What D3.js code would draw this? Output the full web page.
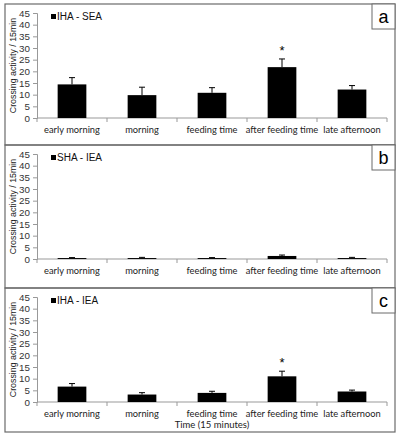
<!DOCTYPE html>
<html>
<head>
<meta charset="utf-8">
<script src="https://cdn.jsdelivr.net/npm/d3@7.9.0/dist/d3.min.js"></script>
<style>
  body { margin: 0; background: #fff; }
  svg { display: block; }
  .tick text { font-family: Arial, "Liberation Sans", sans-serif; }
</style>
</head>
<body>
<svg id="chart" width="399" height="436"></svg>
<script>
// categories on the x axis
const periods = ['early morning', 'morning', 'feeding time', 'after feeding time', 'late afternoon'];
const yTicks = [0, 5, 10, 15, 20, 25, 30, 35, 40, 45];

// panel a: IHA - SEA
const ihaSeaMean = [14.4, 9.8, 10.8, 21.8, 12.2];
const ihaSeaErr = [2.9, 3.4, 2.2, 3.5, 1.7];
// panel b: SHA - IEA
const shaIeaMean = [0.4, 0.4, 0.4, 1.3, 0.4];
const shaIeaErr = [0.2, 0.3, 0.2, 0.4, 0.3];
// panel c: IHA - IEA
const ihaIeaMean = [6.6, 3.2, 3.9, 11.0, 4.5];
const ihaIeaErr = [1.3, 0.8, 0.7, 2.2, 0.6];

const panels = [
  { letter: 'a', legend: 'IHA - SEA', mean: ihaSeaMean, err: ihaSeaErr, star: [3], top: 4, bottom: 145 },
  { letter: 'b', legend: 'SHA - IEA', mean: shaIeaMean, err: shaIeaErr, star: [], top: 145, bottom: 288 },
  { letter: 'c', legend: 'IHA - IEA', mean: ihaIeaMean, err: ihaIeaErr, star: [3], top: 288, bottom: 432, xTitle: 'Time (15 minutes)' }
];

const svg = d3.select('#chart');
const left = 5, right = 395;
const plotL = 37, plotR = 387;

const x = d3.scaleBand().domain(periods).range([plotL, plotR]).paddingInner(0.59).paddingOuter(0.295);

panels.forEach(p => {
  const g = svg.append('g');
  const y = d3.scaleLinear().domain([0, 45]).range([p.top + 114, p.top + 9]);

  // panel frame
  g.append('rect')
    .attr('x', left).attr('y', p.top)
    .attr('width', right - left).attr('height', p.bottom - p.top)
    .attr('fill', 'none').attr('stroke', '#6b6b6b').attr('stroke-width', 1.2);

  // y axis
  const yAxis = g.append('g')
    .attr('transform', `translate(${plotL},0)`)
    .call(d3.axisLeft(y).tickValues(yTicks).tickSize(4).tickPadding(3));
  yAxis.select('.domain').attr('stroke', '#999');
  yAxis.selectAll('.tick line').attr('stroke', '#999');
  yAxis.selectAll('.tick text').attr('font-size', 9.8).attr('fill', '#333');

  // x axis with ticks between categories
  const xAxisG = g.append('g').attr('transform', `translate(0,${y(0)})`);
  xAxisG.append('line').attr('x1', plotL).attr('x2', plotR).attr('stroke', '#999');
  const step = x.step();
  xAxisG.selectAll('line.sep')
    .data(d3.range(periods.length + 1))
    .join('line')
    .attr('class', 'sep')
    .attr('x1', i => plotL + i * step).attr('x2', i => plotL + i * step)
    .attr('y1', 0).attr('y2', 4)
    .attr('stroke', '#999');
  xAxisG.selectAll('text')
    .data(periods)
    .join('text')
    .attr('x', d => x(d) + x.bandwidth() / 2)
    .attr('y', 15)
    .attr('text-anchor', 'middle')
    .attr('font-family', 'Lato, "Open Sans", sans-serif')
    .attr('font-size', 9.3)
    .attr('fill', '#222')
    .text(d => d);

  // bars
  g.selectAll('rect.bar')
    .data(p.mean)
    .join('rect')
    .attr('class', 'bar')
    .attr('x', (d, i) => x(periods[i]))
    .attr('y', d => y(d))
    .attr('width', x.bandwidth())
    .attr('height', d => y(0) - y(d))
    .attr('fill', '#000');

  // upper error bars
  const eb = g.selectAll('g.err')
    .data(p.mean.map((m, i) => ({ m, e: p.err[i], cx: x(periods[i]) + x.bandwidth() / 2 })))
    .join('g').attr('class', 'err');
  eb.append('line')
    .attr('x1', d => d.cx).attr('x2', d => d.cx)
    .attr('y1', d => y(d.m)).attr('y2', d => y(d.m + d.e))
    .attr('stroke', '#000').attr('stroke-width', 1);
  eb.append('line')
    .attr('x1', d => d.cx - 3).attr('x2', d => d.cx + 3)
    .attr('y1', d => y(d.m + d.e)).attr('y2', d => y(d.m + d.e))
    .attr('stroke', '#000').attr('stroke-width', 1);

  // significance stars
  g.selectAll('text.star')
    .data(p.star)
    .join('text')
    .attr('class', 'star')
    .attr('x', i => x(periods[i]) + x.bandwidth() / 2)
    .attr('y', i => y(p.mean[i] + p.err[i]) - 4)
    .attr('text-anchor', 'middle')
    .attr('font-family', 'Arial, sans-serif')
    .attr('font-size', 13)
    .text('*');

  // legend
  g.append('rect')
    .attr('x', 51).attr('y', p.top + 10)
    .attr('width', 5).attr('height', 5)
    .attr('fill', '#000');
  g.append('text')
    .attr('x', 57).attr('y', p.top + 15.5)
    .attr('font-family', 'Arial, "Liberation Sans", sans-serif')
    .attr('font-size', 10)
    .attr('fill', '#111')
    .text(p.legend);

  // y axis title
  const midY = (y(0) + y(45)) / 2;
  g.append('text')
    .attr('transform', `translate(16,${midY}) rotate(-90)`)
    .attr('text-anchor', 'middle')
    .attr('font-family', 'Arial, "Liberation Sans", sans-serif')
    .attr('font-size', 8.8)
    .attr('fill', '#222')
    .text('Crossing activity / 15min');

  // panel letter box
  g.append('rect')
    .attr('x', 372).attr('y', p.top)
    .attr('width', right - 372).attr('height', 25)
    .attr('fill', '#fff').attr('stroke', '#6b6b6b').attr('stroke-width', 1);
  g.append('text')
    .attr('x', 383.5).attr('y', p.top + 19)
    .attr('text-anchor', 'middle')
    .attr('font-family', 'Arial, "Liberation Sans", sans-serif')
    .attr('font-size', 18)
    .text(p.letter);

  if (p.xTitle) {
    g.append('text')
      .attr('x', (plotL + plotR) / 2)
      .attr('y', y(0) + 26)
      .attr('text-anchor', 'middle')
      .attr('font-family', 'Lato, "Open Sans", sans-serif')
      .attr('font-size', 9.5)
      .attr('fill', '#222')
      .text(p.xTitle);
  }
});
</script>
</body>
</html>
